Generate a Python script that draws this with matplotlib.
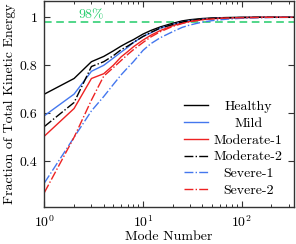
import matplotlib
matplotlib.use('Agg')
import numpy as np
import matplotlib.pyplot as plt
from matplotlib.ticker import FixedLocator, FixedFormatter

plt.rcParams['font.family'] = 'serif'
plt.rcParams['font.serif'] = ['cmr10']
plt.rcParams['mathtext.fontset'] = 'cm'
plt.rcParams['axes.unicode_minus'] = False
plt.rcParams['axes.formatter.use_mathtext'] = True

modes = [1, 2, 3, 4, 5, 6, 7, 8, 10, 12, 15, 20, 25, 30, 40, 50, 70, 100, 150, 200, 340]

healthy = [0.68, 0.745, 0.815, 0.837, 0.86, 0.88, 0.895, 0.907, 0.93, 0.945, 0.96, 0.975,
           0.985, 0.99, 0.995, 0.997, 0.999, 1.0, 1.0, 1.0, 1.0]
mild = [0.59, 0.68, 0.775, 0.80, 0.83, 0.855, 0.875, 0.895, 0.92, 0.935, 0.955, 0.97,
        0.98, 0.986, 0.992, 0.995, 0.998, 0.999, 1.0, 1.0, 1.0]
moderate1 = [0.505, 0.62, 0.745, 0.765, 0.80, 0.835, 0.857, 0.877, 0.905, 0.925, 0.945, 0.965,
             0.976, 0.983, 0.99, 0.994, 0.997, 0.999, 1.0, 1.0, 1.0]
moderate2 = [0.545, 0.645, 0.795, 0.815, 0.84, 0.865, 0.88, 0.895, 0.92, 0.937, 0.955, 0.97,
             0.98, 0.987, 0.993, 0.996, 0.998, 0.999, 1.0, 1.0, 1.0]
severe1 = [0.31, 0.50, 0.61, 0.67, 0.72, 0.76, 0.79, 0.815, 0.862, 0.89, 0.915, 0.94,
           0.958, 0.968, 0.98, 0.986, 0.992, 0.996, 0.998, 0.999, 1.0]
severe2 = [0.27, 0.50, 0.655, 0.755, 0.79, 0.82, 0.845, 0.865, 0.895, 0.918, 0.94, 0.962,
           0.974, 0.982, 0.99, 0.993, 0.997, 0.998, 0.999, 1.0, 1.0]

threshold = 0.98

GREEN = '#22cc6a'
BLUE = '#4477ee'
RED = '#ee2222'
FS = 10

fig = plt.figure(figsize=(2.96, 2.44), dpi=100)
ax = fig.add_axes([0.150, 0.152, 0.843, 0.844])

ax.axhline(threshold, color=GREEN, lw=1.1, ls=(0, (5, 3)))
ax.text(3.0, threshold + 0.003, '98%', color=GREEN, ha='center', va='bottom', fontsize=FS)

ax.plot(modes, healthy, color='black', lw=1.0, label='Healthy')
ax.plot(modes, mild, color=BLUE, lw=1.0, label='Mild')
ax.plot(modes, moderate1, color=RED, lw=1.0, label='Moderate-1')
ax.plot(modes, moderate2, color='black', lw=1.0, ls='-.', label='Moderate-2')
ax.plot(modes, severe1, color=BLUE, lw=1.0, ls='-.', label='Severe-1')
ax.plot(modes, severe2, color=RED, lw=1.0, ls='-.', label='Severe-2')

ax.set_xscale('log')
ax.set_xlim(1, 340)
ax.set_ylim(0.21, 1.068)
ax.yaxis.set_major_locator(FixedLocator([0.4, 0.6, 0.8, 1.0]))
ax.yaxis.set_major_formatter(FixedFormatter(['0.4', '0.6', '0.8', '1']))

ax.tick_params(which='both', direction='in', top=True, right=True, labelsize=FS, colors='#333333',
               labelcolor='black')
ax.tick_params(which='major', length=4, width=0.8, pad=5)
ax.tick_params(which='minor', length=2.5, width=0.7)
for s in ax.spines.values():
    s.set_color('#333333')
    s.set_linewidth(1.0)

ax.set_xlabel('Mode Number', fontsize=FS, labelpad=1)
ax.set_ylabel('Fraction of Total Kinetic Energy', fontsize=FS, labelpad=3)

# legend, labels centred in their column
leg = ax.legend(loc='lower right', frameon=False, fontsize=FS, handlelength=1.7,
                labelspacing=0.3, handletextpad=0.45, borderaxespad=0.3,
                bbox_to_anchor=(0.995, 0.0))
fig.canvas.draw()
boxes = [t.get_window_extent() for t in leg.get_texts()]
left = min(b.x0 for b in boxes)
width = max(b.width for b in boxes)
for t, b in zip(leg.get_texts(), boxes):
    fig.text((left + width / 2) / fig.bbox.width, (b.y0 + b.y1) / 2 / fig.bbox.height,
             t.get_text(), ha='center', va='center', fontsize=FS)
    t.set_visible(False)

fig.savefig('out.png', dpi=100)
